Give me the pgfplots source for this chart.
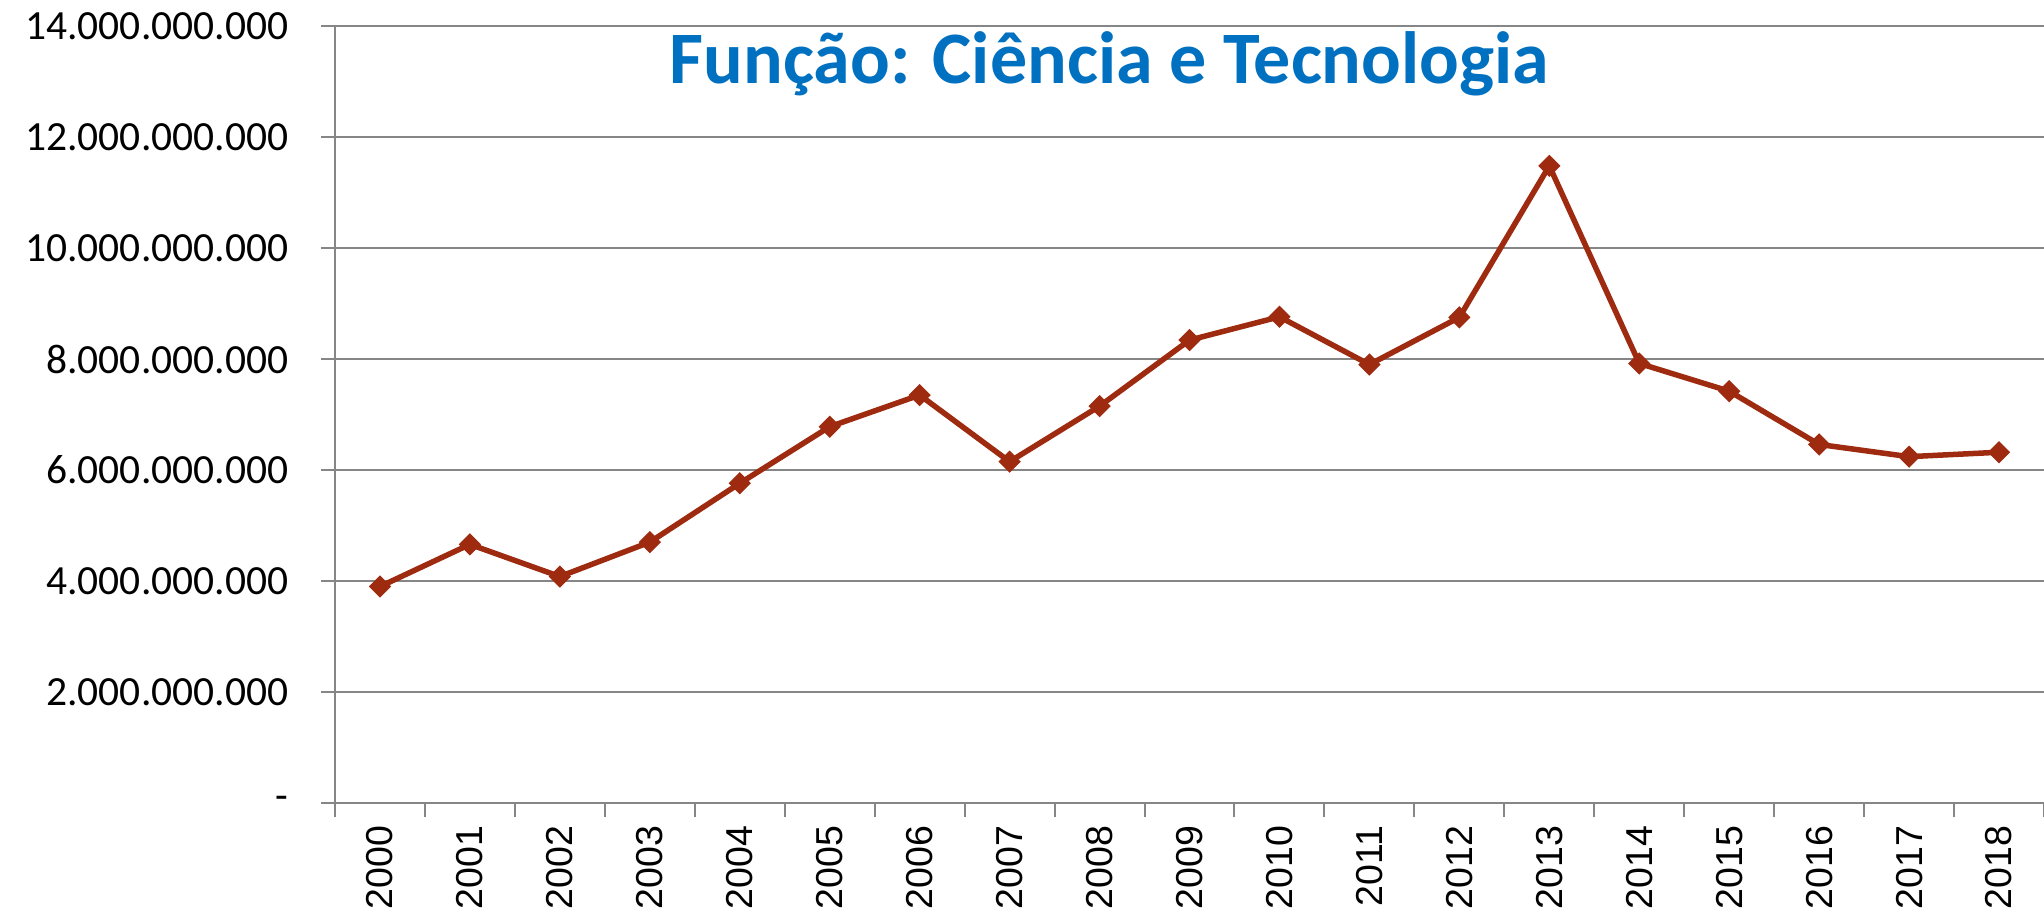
\documentclass[border=0pt]{standalone}
\usepackage{fontspec}
\setmainfont{Carlito}
\newfontfamily\arialfont{Liberation Sans}
\usepackage{pgfplots}
\pgfplotsset{compat=1.18}
\usetikzlibrary{calc}
\definecolor{serie}{RGB}{158,42,16}
\definecolor{titulo}{RGB}{0,112,192}
\definecolor{eixo}{RGB}{134,134,134}

\begin{document}
\begin{tikzpicture}
\begin{axis}[
    scale only axis,
    width=683.6pt, height=310.8pt,
    xmin=-0.5, xmax=18.5,
    ymin=0, ymax=14000000000,
    axis x line*=bottom, axis y line*=left,
    axis line style={eixo, line width=0.8pt, -},
    ymajorgrids,
    grid style={eixo, line width=0.8pt},
    tick align=outside,
    major tick length=5.6pt, minor tick length=5.6pt,
    tick style={eixo, line width=0.8pt},
    xtick={0,1,2,3,4,5,6,7,8,9,10,11,12,13,14,15,16,17,18},
    xticklabels={2000,2001,2002,2003,2004,2005,2006,2007,2008,2009,2010,2011,2012,2013,2014,2015,2016,2017,2018},
    minor xtick={-0.5,0.5,...,18.5},
    major x tick style={draw=none},
    xticklabel style={font=\arialfont\fontsize{15}{15}\selectfont, rotate=90, anchor=east},
    scaled y ticks=false,
    ytick={0,2000000000,4000000000,6000000000,8000000000,10000000000,12000000000,14000000000},
    yticklabels={{-\hspace{6.8pt}},2.000.000.000,4.000.000.000,6.000.000.000,8.000.000.000,10.000.000.000,12.000.000.000,14.000.000.000},
    yticklabel style={font=\fontsize{16.6}{16.6}\selectfont, anchor=east, xshift=-9.6pt},
    clip=false,
]
\addplot[serie, line width=2.2pt, mark=square*, mark size=2.9pt,
    mark options={rotate=45, solid, line width=0.5pt}] coordinates {
    (0,3900000000) (1,4660000000) (2,4080000000) (3,4700000000)
    (4,5760000000) (5,6780000000) (6,7350000000) (7,6150000000)
    (8,7150000000) (9,8340000000) (10,8760000000) (11,7900000000)
    (12,8750000000) (13,11480000000) (14,7920000000) (15,7420000000)
    (16,6460000000) (17,6240000000) (18,6320000000)
};
\node[font=\bfseries\fontsize{29.6}{29.6}\selectfont, text=titulo, anchor=base]
    at (axis cs:8.11,12970000000) {Função: Ciência e Tecnologia};
\end{axis}
\pgfresetboundingbox
\path ($(current axis.south west)+(-134pt,-47.2pt)$) rectangle ($(current axis.north east)+(0pt,10.4pt)$);
\end{tikzpicture}
\end{document}
